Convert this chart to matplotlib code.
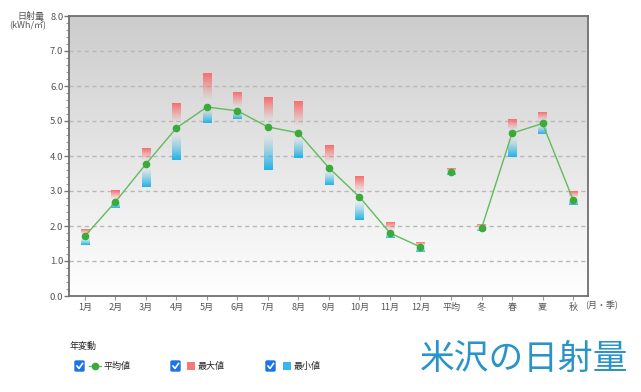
import matplotlib.pyplot as plt
import numpy as np
from matplotlib.colors import to_rgb
from matplotlib.patches import FancyBboxPatch, Rectangle
from matplotlib.lines import Line2D

plt.rcParams['font.family'] = ['Noto Sans CJK JP', 'DejaVu Sans']

# 月・季ごとの日射量 (kWh/㎡)
categories = ['1月', '2月', '3月', '4月', '5月', '6月', '7月', '8月', '9月', '10月',
              '11月', '12月', '平均', '冬', '春', '夏', '秋']
avg_vals = [1.71, 2.69, 3.77, 4.80, 5.40, 5.29, 4.83, 4.66, 3.66, 2.83, 1.80, 1.40,
            3.55, 1.93, 4.65, 4.93, 2.75]
max_vals = [1.91, 3.03, 4.20, 5.51, 6.37, 5.83, 5.66, 5.57, 4.31, 3.43, 2.11, 1.54,
            3.66, 2.03, 5.03, 5.23, 3.00]
min_vals = [1.46, 2.51, 3.11, 3.89, 4.94, 5.06, 3.60, 3.94, 3.17, 2.17, 1.66, 1.26,
            3.46, 1.86, 3.97, 4.63, 2.60]

W, H = 641, 392
fig = plt.figure(figsize=(W / 100, H / 100), dpi=100)
ax = fig.add_axes([69 / W, 1 - 296 / H, (588 - 69) / W, (296 - 16) / H])

def fx(px):
    return px / W

def fy(py):
    return 1 - py / H

# 背景グラデーション (上が濃いグレー)
grad = np.linspace(0.80, 1.0, 256).reshape(-1, 1)
bg = np.dstack([grad, grad, grad])
ax.imshow(bg, extent=[0, 1, 0, 1], transform=ax.transAxes, aspect='auto', zorder=0)

x = np.arange(len(categories))
ax.set_xlim(-0.52, len(categories) - 0.51)
ax.set_ylim(0, 8)

for yv in range(1, 8):
    ax.axhline(yv, color='#b8b8b8', lw=1, ls=(0, (3, 2.5)), zorder=1)

# 最大・最小のグラデーションバー
red = np.array(to_rgb('#f86e6e'))
blue = np.array(to_rgb('#22b2e6'))
bw = 0.27
n = 64
t = np.linspace(0, 1, n).reshape(-1, 1)
for i in range(len(categories)):
    a, mx, mn = avg_vals[i], max_vals[i], min_vals[i]
    ra = np.clip(1 - t * 1.25, 0, 1) ** 1.2
    rimg = np.zeros((n, 1, 4))
    rimg[..., :3] = red
    rimg[..., 3] = ra
    ax.imshow(rimg, extent=[i - bw / 2, i + bw / 2, a, mx], aspect='auto',
              origin='upper', zorder=2, interpolation='bilinear')
    ba = np.clip(t * 1.25 - 0.25, 0, 1) ** 1.2
    bimg = np.zeros((n, 1, 4))
    bimg[..., :3] = blue
    bimg[..., 3] = ba
    ax.imshow(bimg, extent=[i - bw / 2, i + bw / 2, mn, a], aspect='auto',
              origin='upper', zorder=2, interpolation='bilinear')

line_c = '#62bb5e'
mk_c = '#3aab3a'
segs = [range(0, 12), range(12, 13), range(13, 17)]
for s in segs:
    s = list(s)
    ax.plot(x[s], [avg_vals[k] for k in s], color=line_c, lw=1, zorder=3,
            marker='o', ms=4.5, mfc=mk_c, mec=mk_c)

ax.set_xticks(x)
ax.set_xticklabels(categories, fontsize=6.5, color='#555555')
ax.set_yticks(np.arange(0, 9, 1))
ax.set_yticklabels([f'{v:.1f}' for v in range(9)], fontsize=6.8, color='#555555')
ax.set_yticks(np.arange(0, 8.01, 0.2), minor=True)
ax.tick_params(axis='y', which='major', length=3.5, color='#777777', width=1, pad=0.5)
ax.tick_params(axis='y', which='minor', length=2, color='#999999', width=0.8)
ax.tick_params(axis='x', length=3, color='#999999', width=0.8, pad=2)
for sp in ax.spines.values():
    sp.set_color('#707070')
    sp.set_linewidth(1.3)

fig.text(fx(44), fy(16), '日射量', ha='right', va='center', fontsize=6.5, color='#555555')
fig.text(fx(46), fy(25), '(kWh/㎡)', ha='right', va='center', fontsize=6.5, color='#555555')
fig.text(fx(585), fy(306), '(月・季)', ha='left', va='center', fontsize=6.5, color='#555555')

# 凡例
fig.text(fx(70), fy(346), '年変動', ha='left', va='center', fontsize=6.5, color='#222222')
chk_blue = '#1a73e8'
def checkbox(px, py):
    fig.patches.append(FancyBboxPatch((fx(px), fy(py + 5)), fx(9), 10 / H,
                                      boxstyle='round,pad=0,rounding_size=0.002',
                                      transform=fig.transFigure, fc=chk_blue, ec=chk_blue))
    fig.lines.append(Line2D([fx(px + 2), fx(px + 4), fx(px + 7.5)],
                            [fy(py), fy(py + 2.5), fy(py - 2.5)],
                            transform=fig.transFigure, color='white', lw=1.2))

ly = 366
checkbox(75, ly)
fig.lines.append(Line2D([fx(89), fx(101)], [fy(ly), fy(ly)], transform=fig.transFigure,
                        color=line_c, lw=1))
fig.lines.append(Line2D([fx(95)], [fy(ly)], transform=fig.transFigure, marker='o',
                        ms=4.5, mfc=mk_c, mec=mk_c))
fig.text(fx(103), fy(ly), '平均値', ha='left', va='center', fontsize=6.5, color='#222222')

checkbox(171, ly)
fig.patches.append(Rectangle((fx(187), fy(ly + 4)), fx(8), 8 / H, transform=fig.transFigure,
                             fc='#f87878', ec='none'))
fig.text(fx(198), fy(ly), '最大値', ha='left', va='center', fontsize=6.5, color='#222222')

checkbox(266, ly)
fig.patches.append(Rectangle((fx(283), fy(ly + 4)), fx(8), 8 / H, transform=fig.transFigure,
                             fc='#35b8e6', ec='none'))
fig.text(fx(294), fy(ly), '最小値', ha='left', va='center', fontsize=6.5, color='#222222')

fig.text(fx(628), fy(359), '米沢の日射量', ha='right', va='center', fontsize=25,
         color='#2a93c8')

fig.savefig('out.png', dpi=100)
